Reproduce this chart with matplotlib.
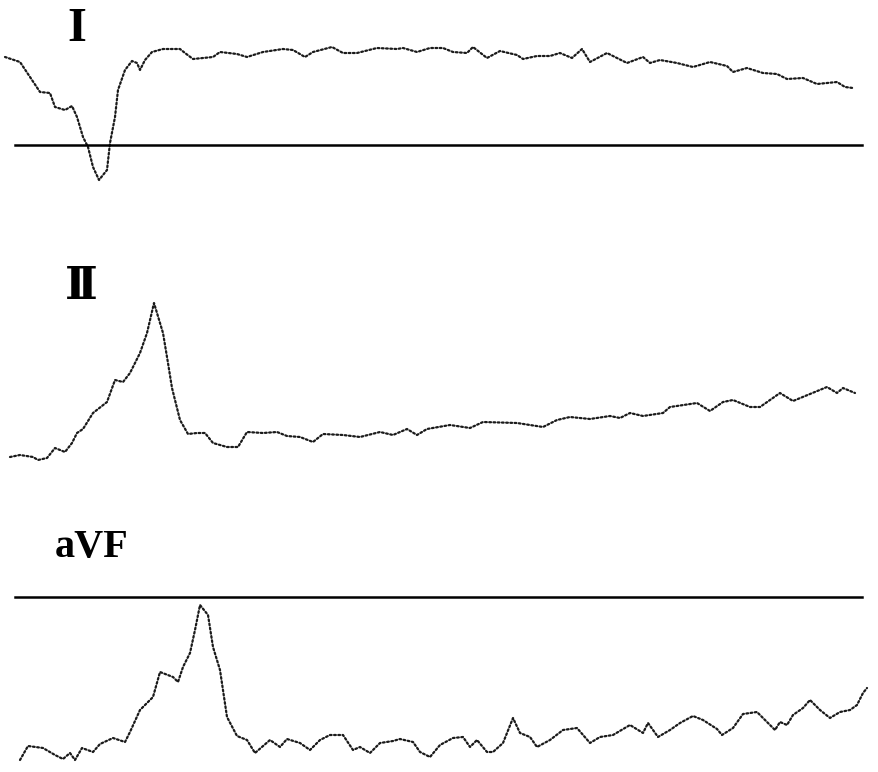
import matplotlib
matplotlib.use('Agg')
import matplotlib.pyplot as plt

# lead I trace (x = sample position, y = amplitude in image units, down is positive)
lead1_x = [5, 20, 30, 40, 50, 55, 65, 72, 77, 83, 88, 93, 99, 107, 110, 115, 118, 125,
           132, 137, 140, 145, 152, 163, 180, 185, 193, 203, 213, 220, 237, 247, 263,
           283, 293, 305, 313, 332, 343, 357, 377, 397, 403, 417, 430, 443, 453, 467,
           473, 487, 500, 517, 523, 537, 550, 560, 572, 582, 590, 607, 627, 643, 650,
           660, 677, 693, 710, 727, 733, 747, 763, 777, 787, 803, 817, 837, 845, 853]
lead1_y = [57, 62, 77, 92, 93, 107, 110, 106, 117, 137, 147, 167, 180, 170, 143, 117, 90, 70,
           61, 63, 70, 60, 52, 49, 49, 53, 59, 58, 57, 52, 54, 57, 52,
           49, 50, 57, 52, 47, 53, 53, 48, 49, 48, 52, 48, 48, 52, 53,
           47, 58, 51, 55, 59, 56, 56, 53, 58, 49, 62, 53, 63, 57, 63,
           60, 63, 67, 62, 66, 72, 68, 73, 74, 79, 78, 84, 82, 87, 88]

# lead II trace
lead2_x = [10, 20, 33, 38, 47, 55, 65, 72, 77, 83, 93, 107, 115, 123, 130, 140, 147, 154,
           163, 168, 172, 180, 188, 197, 205, 213, 227, 238, 247, 263, 277, 287, 300,
           313, 323, 343, 360, 380, 393, 407, 417, 427, 450, 470, 483, 517, 543, 557,
           570, 590, 610, 620, 630, 643, 663, 670, 697, 710, 723, 733, 750, 760, 770,
           780, 793, 810, 827, 837, 843, 855]
lead2_y = [457, 455, 457, 460, 458, 448, 452, 443, 433, 429, 413, 402, 380, 382, 373, 353, 333, 303,
           333, 363, 388, 420, 434, 433, 433, 443, 447, 447, 432, 433, 432, 436, 437,
           442, 434, 435, 437, 432, 435, 429, 435, 429, 425, 428, 422, 423, 427, 420,
           417, 419, 416, 418, 413, 416, 413, 407, 403, 411, 402, 400, 407, 407, 400,
           393, 401, 394, 387, 393, 388, 393]

# lead aVF trace
avf_x = [20, 28, 43, 55, 63, 70, 75, 82, 93, 100, 113, 125, 130, 140, 153, 160, 173, 178,
         183, 190, 195, 200, 208, 213, 220, 227, 237, 247, 255, 270, 280, 287, 300,
         310, 320, 330, 343, 353, 360, 370, 380, 393, 400, 413, 420, 430, 440, 453,
         463, 470, 477, 487, 493, 503, 513, 520, 530, 537, 550, 563, 577, 590, 600,
         613, 630, 643, 648, 658, 670, 680, 693, 703, 717, 722, 733, 743, 757, 767,
         775, 780, 787, 793, 803, 810, 820, 830, 840, 850, 857, 863, 867]
avf_y = [760, 746, 748, 755, 759, 753, 760, 748, 752, 744, 738, 742, 732, 710, 697, 672, 677, 682,
         667, 653, 630, 605, 615, 647, 670, 717, 736, 740, 753, 740, 747, 739, 743,
         750, 740, 735, 735, 750, 747, 753, 743, 741, 739, 742, 752, 757, 745, 738,
         737, 747, 740, 752, 752, 743, 718, 733, 737, 747, 740, 730, 728, 743, 737,
         735, 725, 733, 723, 737, 730, 723, 716, 720, 729, 735, 728, 714, 712, 722,
         730, 722, 725, 715, 708, 700, 710, 718, 712, 710, 705, 693, 688]

# reference lines (I and aVF)
baseline_y = [145, 597]
baseline_x = [15, 862]

labels = ['I', 'Ⅱ', 'aVF']


def main():
    fig = plt.figure(figsize=(8.79, 7.72), dpi=100)
    ax = fig.add_axes([0, 0, 1, 1])
    ax.set_xlim(0, 879)
    ax.set_ylim(772, 0)
    ax.axis('off')

    dot = dict(color='#1a1a1a', lw=1.6, linestyle=(0, (0.8, 1.1)),
               dash_capstyle='round', solid_joinstyle='round')
    ax.plot(lead1_x, lead1_y, **dot)
    ax.plot(lead2_x, lead2_y, **dot)
    ax.plot(avf_x, avf_y, **dot)

    for y in baseline_y:
        ax.plot(baseline_x, [y, y], color='black', lw=1.8)

    serif = ['Liberation Serif', 'DejaVu Serif']
    ax.text(77, 41, labels[0], fontsize=35, fontweight='bold', family=serif,
            ha='center', va='baseline')
    ax.text(81, 299, labels[1], fontsize=32, fontweight='bold', family=serif,
            ha='center', va='baseline')
    ax.text(55, 557, labels[2], fontsize=29, fontweight='bold', family=serif,
            ha='left', va='baseline')

    fig.savefig('out.png', dpi=100)


if __name__ == '__main__':
    main()
